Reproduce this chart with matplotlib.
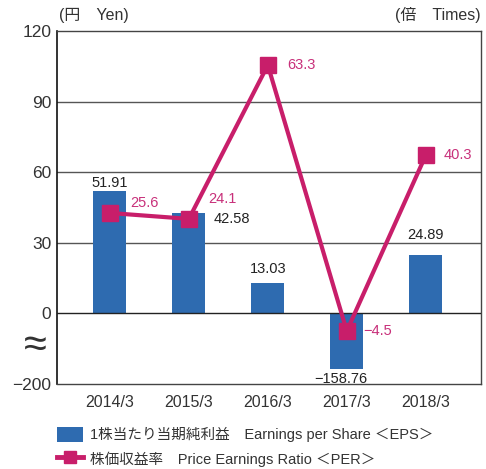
import numpy as np
import matplotlib
matplotlib.use("Agg")
import matplotlib.pyplot as plt
from matplotlib.patches import Patch
from matplotlib.lines import Line2D

plt.rcParams['font.family'] = ['Liberation Sans', 'Noto Sans CJK JP', 'DejaVu Sans']

categories = ["2014/3", "2015/3", "2016/3", "2017/3", "2018/3"]
eps = [51.91, 42.58, 13.03, -158.76, 24.89]
per = [25.6, 24.1, 63.3, -4.5, 40.3]
eps_labels = ["51.91", "42.58", "13.03", "\u2212158.76", "24.89"]
per_labels = ["25.6", "24.1", "63.3", "\u22124.5", "40.3"]
yticks = [-200, 0, 30, 60, 90, 120]
ytick_labels = ["\u2212200", "0", "30", "60", "90", "120"]

BLUE = "#2e6bb0"
MAG = "#c81e6a"
MAGT = "#c8307a"
TXT = "#333333"

NEG = 0.15
def fwd(v):
    v = np.asarray(v, dtype=float)
    return np.where(v >= 0, v, v * NEG)
def inv(u):
    u = np.asarray(u, dtype=float)
    return np.where(u >= 0, u, u / NEG)

fig = plt.figure(figsize=(4.86, 4.69), dpi=100)
ax = fig.add_axes([57/486, 1-384/469, 424/486, 353/469])
ax.set_yscale('function', functions=(fwd, inv))
ax.set_ylim(-200, 120)
x = np.arange(len(categories))
ax.set_xlim(-0.67, 4.7)

for yv in [30, 60, 90]:
    ax.axhline(yv, color="#555555", lw=1.0, zorder=1)
ax.axhline(0, color="#222222", lw=1.0, zorder=3)

ax.bar(x, eps, width=0.42, color=BLUE, zorder=2)

ax.set_yticks(yticks)
ax.set_yticklabels(ytick_labels, fontsize=12.5, color=TXT)
ax.set_xticks(x)
ax.set_xticklabels(categories, fontsize=11.5, color=TXT)
ax.tick_params(axis='both', length=0, pad=4)
ax.tick_params(axis='x', pad=8)
for s in ['top', 'right', 'bottom']:
    ax.spines[s].set_color("#444444")
    ax.spines[s].set_linewidth(1.0)
ax.spines['left'].set_color("#111111")
ax.spines['left'].set_linewidth(1.2)

# EPS labels (offsets in points)
eps_offsets = [(0, 6, 'center', 'center'), (18, -4, 'left', 'center'),
               (0, 10, 'center', 'center'), (-4, -7, 'center', 'center'),
               (0, 14, 'center', 'center')]
for i, (v, lab) in enumerate(zip(eps, eps_labels)):
    dx, dy, ha, va = eps_offsets[i]
    ax.annotate(lab, xy=(i, v), xytext=(dx, dy), textcoords='offset points',
                ha=ha, va=va, fontsize=10.5, color="#222222", zorder=6)

ax2 = ax.twinx()
ax2.set_ylim(-18, 72)
ax2.set_yticks([])
for s in ax2.spines.values():
    s.set_visible(False)
ax2.plot(x, per, color=MAG, lw=3.0, marker='s', markersize=11, zorder=5,
         solid_joinstyle='miter')

per_offsets = [(15, 7), (14, 14), (14, 0), (12, 0), (13, 0)]
for i, (v, lab) in enumerate(zip(per, per_labels)):
    dx, dy = per_offsets[i]
    ax2.annotate(lab, xy=(i, v), xytext=(dx, dy), textcoords='offset points',
                 ha='left', va='center', fontsize=10.5, color=MAGT)

fig.text(59/486, 1-15/469, "(円　Yen)", fontsize=11.5, color=TXT, ha='left', va='center')
fig.text(481/486, 1-15/469, "(倍　Times)", fontsize=11.5, color=TXT, ha='right', va='center')
fig.text(35/486, 1-346/469, "\u2248", fontsize=30, color=TXT, ha='center', va='center')

handles = [Patch(facecolor=BLUE, edgecolor='none'),
           Line2D([0], [0], color=MAG, lw=3.5, marker='s', markersize=8)]
labels = ["1株当たり当期純利益　Earnings per Share ＜EPS＞",
          "株価収益率　Price Earnings Ratio ＜PER＞"]
fig.legend(handles, labels, loc='upper left', bbox_to_anchor=(57/486, 1-427/469),
           frameon=False, fontsize=10.5, handlelength=1.75, handleheight=1.2,
           handletextpad=0.5, labelspacing=0.6, borderaxespad=0, borderpad=0,
           labelcolor=TXT)

fig.savefig("out.png", dpi=100)
